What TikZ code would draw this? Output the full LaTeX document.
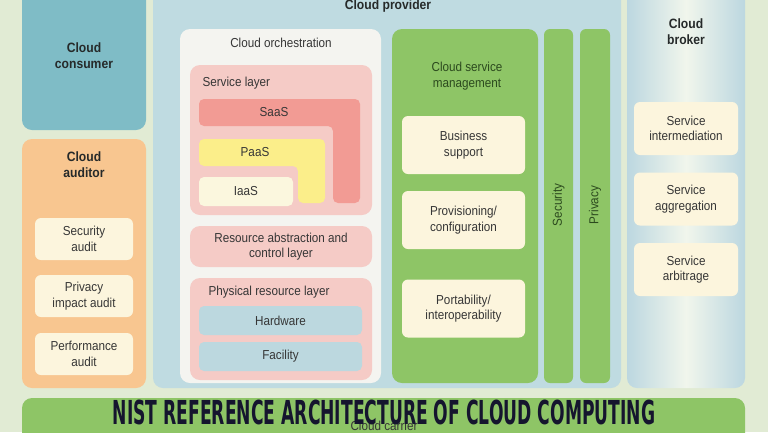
\documentclass[tikz,border=0pt]{standalone}
\usepackage{fontspec}
\setmainfont[FakeStretch=0.9]{Liberation Sans}
\newfontfamily\titlefont[FakeStretch=0.52]{DejaVu Sans}
\usepackage{tikz}
\usepackage{xcolor}

\definecolor{bggreen}{HTML}{E1EBD4}
\definecolor{consumerteal}{HTML}{7FBCC6}
\definecolor{auditorange}{HTML}{F8C690}
\definecolor{cream}{HTML}{FCF5DD}
\definecolor{providerblue}{HTML}{BFDBE1}
\definecolor{orchwhite}{HTML}{F4F4F0}
\definecolor{layerpink}{HTML}{F5CBC6}
\definecolor{saasred}{HTML}{F29B94}
\definecolor{paasyellow}{HTML}{FBEE8A}
\definecolor{iaascream}{HTML}{FBF7DE}
\definecolor{hwblue}{HTML}{BCD8DF}
\definecolor{mgmtgreen}{HTML}{8EC566}
\definecolor{brokeredge}{HTML}{BCD7E0}
\definecolor{brokermid}{HTML}{F1F6EC}
\definecolor{txtgray}{HTML}{363636}
\definecolor{headgray}{HTML}{262A2A}
\definecolor{darkgreen}{HTML}{2C4A1E}
\definecolor{titlenavy}{HTML}{15152E}

\begin{document}
\begin{tikzpicture}[x=1pt, y=-1pt]

\tikzstyle{every node} = [font=\fontsize{13}{15.5}\selectfont, text=txtgray, align=center]
\tikzstyle{box} = [rectangle, rounded corners=10pt, inner sep=0pt]
\tikzstyle{item} = [box, rounded corners=6pt, fill=cream]
\tikzstyle{head} = [font=\fontsize{13.5}{16}\selectfont\bfseries, text=headgray]

\useasboundingbox (0,0) rectangle (768,432);
\clip (0,0) rectangle (768,432);
\fill[bggreen] (0,0) rectangle (768,432);

\node[box, fill=consumerteal, minimum width=124, minimum height=142] (consumer) at (84,59) {};
\node[head] (consumert) at (84,56) {Cloud\\consumer};

\node[box, fill=auditorange, minimum width=124, minimum height=249] (auditor) at (84,263.5) {};
\node[head] (auditort) at (84,165) {Cloud\\auditor};
\node[item, minimum width=98, minimum height=42] (secaudit) at (84,239) {Security\\audit};
\node[item, minimum width=98, minimum height=42] (privaudit) at (84,296) {Privacy\\impact audit};
\node[item, minimum width=98, minimum height=42] (perfaudit) at (84,354) {Performance\\audit};

\node[box, fill=providerblue, minimum width=468, minimum height=400] (provider) at (387,188) {};
\node[head] (providert) at (388,6) {Cloud provider};

\node[box, fill=orchwhite, minimum width=201, minimum height=354] (orch) at (280.5,206) {};
\node (orcht) at (281,43) {Cloud orchestration};

\node[box, fill=layerpink, minimum width=182, minimum height=150] (service) at (281,140) {};
\node[anchor=west] (servicet) at (199,83) {Service layer};
\fill[saasred, rounded corners=5pt] (199,99) -- (360,99) -- (360,203) -- (333,203) -- (333,126) -- (199,126) -- cycle;
\node (saas) at (274,112.5) {SaaS};
\fill[paasyellow, rounded corners=5pt] (199,139) -- (325,139) -- (325,203) -- (298,203) -- (298,166) -- (199,166) -- cycle;
\node (paas) at (255,152.5) {PaaS};
\node[box, rounded corners=5pt, fill=iaascream, minimum width=94, minimum height=29] (iaas) at (246,191.5) {IaaS};

\node[box, fill=layerpink, minimum width=182, minimum height=41] (racl) at (281,246.5) {Resource abstraction and\\control layer};

\node[box, fill=layerpink, minimum width=182, minimum height=102] (physical) at (281,329) {};
\node[anchor=west] (physicalt) at (205,292) {Physical resource layer};
\node[box, rounded corners=5pt, fill=hwblue, minimum width=163, minimum height=29] (hardware) at (280.5,320.5) {Hardware};
\node[box, rounded corners=5pt, fill=hwblue, minimum width=163, minimum height=29] (facility) at (280.5,356.5) {Facility};

\node[box, fill=mgmtgreen, minimum width=146, minimum height=354] (mgmt) at (465,206) {};
\node[text=darkgreen] (mgmtt) at (467,76) {Cloud service\\management};
\node[item, minimum width=123, minimum height=58] (business) at (463.5,145) {Business\\support};
\node[item, minimum width=123, minimum height=58] (provisioning) at (463.5,220) {Provisioning/\\configuration};
\node[item, minimum width=123, minimum height=58] (portability) at (463.5,308.5) {Portability/\\interoperability};

\node[box, rounded corners=6pt, fill=mgmtgreen, minimum width=29, minimum height=354] (security) at (558.5,206) {};
\node[rotate=90, text=darkgreen] (securityt) at (558.5,205) {Security};
\node[box, rounded corners=6pt, fill=mgmtgreen, minimum width=30, minimum height=354] (privacy) at (595,206) {};
\node[rotate=90, text=darkgreen] (privacyt) at (595,205) {Privacy};

\node[box, left color=brokeredge, right color=brokeredge, middle color=brokermid, minimum width=118, minimum height=400] (broker) at (686,188) {};
\node[head] (brokert) at (686,32) {Cloud\\broker};
\node[item, minimum width=104, minimum height=53] (intermediation) at (686,128.5) {Service\\intermediation};
\node[item, minimum width=104, minimum height=53] (aggregation) at (686,199) {Service\\aggregation};
\node[item, minimum width=104, minimum height=53] (arbitrage) at (686,269.5) {Service\\arbitrage};

\node[box, fill=mgmtgreen, minimum width=723, minimum height=47] (carrier) at (383.5,421.5) {};
\node (carriert) at (384,426) {Cloud carrier};
\node[font=\titlefont\bfseries\fontsize{33}{33}\selectfont, text=titlenavy] (title) at (384,412) {NIST REFERENCE ARCHITECTURE OF CLOUD COMPUTING};

\end{tikzpicture}
\end{document}
